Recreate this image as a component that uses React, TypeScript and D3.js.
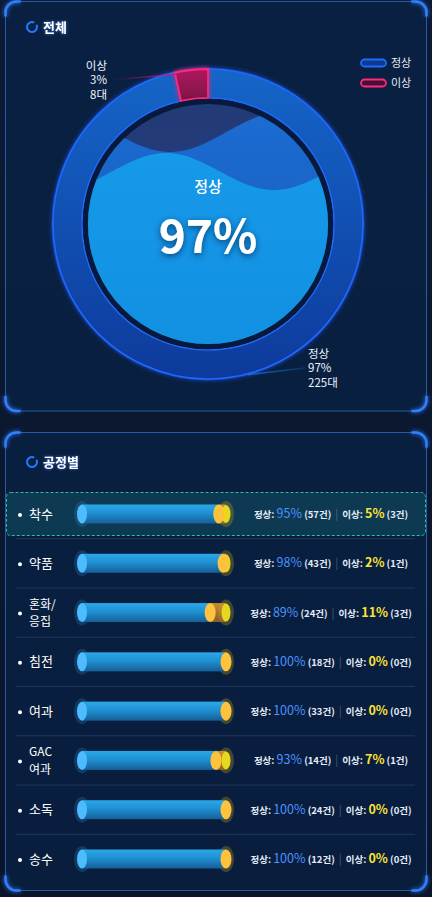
import { useEffect, useRef } from 'react'
import * as d3 from 'd3'

// overall
const totalCats = ['정상', '이상']
const totalCounts = [225, 8]
const totalPct = [97, 3]
const centerPct = 97

// per process
const procLabels = [['착수'], ['약품'], ['혼화/', '응집'], ['침전'], ['여과'], ['GAC', '여과'], ['소독'], ['송수']]
const normalPct = [95, 98, 89, 100, 100, 93, 100, 100]
const normalCnt = [57, 43, 24, 18, 33, 14, 24, 12]
const abnormalPct = [5, 2, 11, 0, 0, 7, 0, 0]
const abnormalCnt = [3, 1, 3, 0, 0, 1, 0, 0]

const FONT = '"Noto Sans CJK KR", "Noto Sans", sans-serif'
const W = 432, H = 897

function panel(g: d3.Selection<SVGGElement, unknown, null, undefined>, x: number, y: number, w: number, h: number) {
  g.append('rect').attr('x', x).attr('y', y).attr('width', w).attr('height', h).attr('rx', 10)
    .attr('fill', 'rgba(10,38,78,0.55)').attr('stroke', '#2a5aa6').attr('stroke-width', 1)
  const r = 11
  const corners = [
    `M${x},${y + r + 4}V${y + r}A${r},${r} 0 0 1 ${x + r},${y}H${x + r + 4}`,
    `M${x + w - r - 4},${y}H${x + w - r}A${r},${r} 0 0 1 ${x + w},${y + r}V${y + r + 4}`,
    `M${x},${y + h - r - 4}V${y + h - r}A${r},${r} 0 0 0 ${x + r},${y + h}H${x + r + 4}`,
    `M${x + w - r - 4},${y + h}H${x + w - r}A${r},${r} 0 0 0 ${x + w},${y + h - r}V${y + h - r - 4}`,
  ]
  corners.forEach(p => g.append('path').attr('d', p).attr('fill', 'none').attr('stroke', '#2f80ff')
    .attr('stroke-width', 2.5).attr('filter', 'url(#glow)'))
}

function title(g: d3.Selection<SVGGElement, unknown, null, undefined>, y: number, label: string) {
  const arc = d3.arc()({ innerRadius: 4, outerRadius: 6, startAngle: Math.PI * 0.35, endAngle: Math.PI * 2.15 } as any)
  g.append('path').attr('d', arc).attr('transform', `translate(32,${y})`).attr('fill', '#1f7bff')
  g.append('text').attr('x', 43).attr('y', y + 5).attr('fill', '#fff').attr('font-size', 13).attr('font-weight', 700)
    .attr('font-family', FONT).attr('filter', 'url(#txtglow)').text(label)
}

export default function App() {
  const ref = useRef<SVGSVGElement>(null)

  useEffect(() => {
    const svg = d3.select(ref.current!)
    svg.selectAll('*').remove()
    const defs = svg.append('defs')

    const glow = defs.append('filter').attr('id', 'glow').attr('x', '-50%').attr('y', '-50%').attr('width', '200%').attr('height', '200%')
    glow.append('feGaussianBlur').attr('stdDeviation', 2).attr('result', 'b')
    const gm = glow.append('feMerge'); gm.append('feMergeNode').attr('in', 'b'); gm.append('feMergeNode').attr('in', 'SourceGraphic')
    const tg = defs.append('filter').attr('id', 'txtglow').attr('x', '-30%').attr('y', '-50%').attr('width', '160%').attr('height', '200%')
    tg.append('feGaussianBlur').attr('stdDeviation', 1.5).attr('in', 'SourceAlpha').attr('result', 'b')
    tg.append('feFlood').attr('flood-color', '#3a8bff').attr('flood-opacity', 0.8)
    tg.append('feComposite').attr('in2', 'b').attr('operator', 'in').attr('result', 'c')
    const tm = tg.append('feMerge'); tm.append('feMergeNode').attr('in', 'c'); tm.append('feMergeNode').attr('in', 'SourceGraphic')
    const shadow = defs.append('filter').attr('id', 'shadow').attr('x', '-30%').attr('y', '-30%').attr('width', '160%').attr('height', '160%')
    shadow.append('feDropShadow').attr('dx', 0).attr('dy', 2).attr('stdDeviation', 3).attr('flood-color', '#062a55').attr('flood-opacity', 0.8)

    const lin = (id: string, stops: [number, string, number?][], x2 = 0, y2 = 1) => {
      const lg = defs.append('linearGradient').attr('id', id).attr('x1', 0).attr('y1', 0).attr('x2', x2).attr('y2', y2)
      stops.forEach(([o, c, op]) => lg.append('stop').attr('offset', o).attr('stop-color', c).attr('stop-opacity', op ?? 1))
    }
    lin('bg', [[0, '#0c1a33'], [0.5, '#0b1830'], [1, '#0a1529']])
    lin('ring', [[0, '#1565c8'], [1, '#0d3a9c']])
    lin('pink', [[0, '#b01a60'], [1, '#7e1048']])
    lin('top', [[0, '#223a76'], [1, '#284688']])
    lin('back', [[0, '#1c6cd2'], [1, '#1558b4']])
    lin('front', [[0, '#1699e8'], [1, '#1290e2']])
    lin('bar', [[0, '#2aa8e8'], [0.45, '#1f90d2'], [1, '#155f98']])
    lin('abn', [[0, '#e8a030', 0.85], [1, '#b87820', 0.7]])
    lin('leadPink', [[0, '#c01860', 0], [1, '#d01a68', 0.9]], 1, 0)
    lin('leadBlue', [[0, '#1a70d0', 0.9], [1, '#1a70d0', 0.2]], 1, 0)

    svg.append('rect').attr('width', W).attr('height', H).attr('fill', 'url(#bg)')

    const g = svg.append('g')
    panel(g, 5.5, 1.5, 421, 409.5)
    panel(g, 5.5, 432.5, 421, 458)
    title(g, 27, '전체')
    title(g, 462, '공정별')

    // ---------- donut ----------
    const cx = 208, cy = 224, rOut = 155, rIn = 126, rLiq = 120
    const pie = d3.pie<number>().sort(null).value(d => d)
    const arcs = pie(totalCounts)
    const arc = d3.arc<d3.PieArcDatum<number>>().innerRadius(rIn).outerRadius(rOut)
    const dg = g.append('g').attr('transform', `translate(${cx},${cy})`)

    dg.append('circle').attr('r', rOut).attr('fill', 'none').attr('stroke', '#1d5cff').attr('stroke-width', 3).attr('opacity', 0.6).attr('filter', 'url(#glow)')
    dg.append('path').attr('d', arc(arcs[0])!).attr('fill', 'url(#ring)').attr('stroke', '#2168ff').attr('stroke-width', 1.5)
    dg.append('path').attr('d', arc(arcs[1])!).attr('fill', 'url(#pink)').attr('stroke', '#ff2a7e').attr('stroke-width', 1.8).attr('filter', 'url(#glow)')

    // dark gap + liquid
    dg.append('circle').attr('r', rIn - 0.8).attr('fill', '#081a3c')
    const clip = defs.append('clipPath').attr('id', 'liq')
    clip.append('circle').attr('cx', cx).attr('cy', cy).attr('r', rLiq)
    const lq = g.append('g').attr('clip-path', 'url(#liq)')
    lq.append('circle').attr('cx', cx).attr('cy', cy).attr('r', rLiq).attr('fill', 'url(#top)')
    const xs = d3.range(cx - rLiq - 5, cx + rLiq + 6, 2)
    const wave = (mid: number, amp: number, phaseX: number, len: number) =>
      d3.area<number>().x(x => x).y0(cy + rLiq + 5)
        .y1(x => mid + amp * Math.cos((2 * Math.PI * (x - phaseX)) / len)).curve(d3.curveBasis)(xs)!
    lq.append('path').attr('d', wave(132, 20, 170, 226)).attr('fill', 'url(#back)')
    lq.append('path').attr('d', wave(171.5, -18.5, 166, 216)).attr('fill', 'url(#front)')

    g.append('text').attr('x', cx).attr('y', 192).attr('text-anchor', 'middle').attr('fill', '#fff')
      .attr('font-size', 15).attr('font-weight', 500).attr('font-family', FONT).text(totalCats[0])
    g.append('text').attr('x', cx).attr('y', 253).attr('text-anchor', 'middle').attr('fill', '#fff')
      .attr('font-size', 46).attr('font-weight', 700).attr('font-family', FONT).attr('filter', 'url(#shadow)').text(`${centerPct}%`)

    // slice labels
    const pt = (a: number, r: number) => [cx + r * Math.sin(a), cy - r * Math.cos(a)]
    const pA = pt(arcs[1].startAngle + 0.02, rOut - 2)
    g.append('line').attr('x1', 112).attr('y1', 80).attr('x2', pA[0]).attr('y2', pA[1])
      .attr('stroke', 'url(#leadPink)').attr('stroke-width', 1.5)
    const pN = pt((arcs[0].startAngle + arcs[0].endAngle) / 2 - 0.15, rOut + 1)
    g.append('line').attr('x1', pN[0]).attr('y1', pN[1]).attr('x2', 305).attr('y2', 368)
      .attr('stroke', 'url(#leadBlue)').attr('stroke-width', 1.5)
    const labLines = (x: number, y: number, anchor: string, lines: string[]) => {
      lines.forEach((s, i) => g.append('text').attr('x', x).attr('y', y + i * 14.5).attr('text-anchor', anchor)
        .attr('fill', '#eef3fb').attr('font-size', 11.5).attr('font-family', FONT).text(s))
    }
    labLines(107, 69.5, 'end', [totalCats[1], `${totalPct[1]}%`, `${totalCounts[1]}대`])
    labLines(308, 357.5, 'start', [totalCats[0], `${totalPct[0]}%`, `${totalCounts[0]}대`])

    // legend
    const legColors = [['#1f6bff', '#0e3a8c'], ['#ff2a7a', '#4a0e36']]
    totalCats.forEach((c, i) => {
      const ly = 63 + i * 20
      g.append('rect').attr('x', 361).attr('y', ly - 3.5).attr('width', 25).attr('height', 7).attr('rx', 3.5)
        .attr('fill', legColors[i][1]).attr('stroke', legColors[i][0]).attr('stroke-width', 1.8)
      g.append('text').attr('x', 391).attr('y', ly + 4).attr('fill', '#e8eef8').attr('font-size', 11)
        .attr('font-family', FONT).text(c)
    })

    // ---------- process rows ----------
    const names = procLabels.map(l => l.join(''))
    const yS = d3.scalePoint<string>().domain(names).range([514, 859])
    const xS = d3.scaleLinear().domain([0, 100]).range([82, 226])
    const step = yS.step()

    g.append('rect').attr('x', 6.5).attr('y', yS(names[0])! - 21.5).attr('width', 419).attr('height', 43).attr('rx', 4)
      .attr('fill', 'rgba(24,120,130,0.3)').attr('stroke', '#22c79c').attr('stroke-width', 1).attr('stroke-dasharray', '3,2')

    names.forEach((n, i) => {
      const y = yS(n)!
      if (i < names.length - 1)
        g.append('line').attr('x1', 16).attr('x2', 415).attr('y1', y + step / 2).attr('y2', y + step / 2)
          .attr('stroke', 'rgba(140,170,220,0.18)').attr('stroke-width', 1)
      g.append('circle').attr('cx', 20).attr('cy', y + 1).attr('r', 2).attr('fill', '#fff')
      const lines = procLabels[i]
      lines.forEach((s, j) => g.append('text').attr('x', 29)
        .attr('y', lines.length === 1 ? y + 4.5 : y - 4 + j * 17.5)
        .attr('fill', '#fff').attr('font-size', lines.length === 1 ? 13 : 12).attr('font-family', FONT).text(s))

      // bar
      const xe = xS(normalPct[i]), xEnd = xS(100)
      g.append('ellipse').attr('cx', xS(0)).attr('cy', y).attr('rx', 8).attr('ry', 13).attr('fill', 'rgba(60,150,230,0.22)')
      g.append('ellipse').attr('cx', xEnd).attr('cy', y).attr('rx', 8).attr('ry', 13).attr('fill', 'rgba(170,150,30,0.35)')
      g.append('rect').attr('x', xS(0)).attr('y', y - 9.5).attr('width', xe - xS(0)).attr('height', 19).attr('fill', 'url(#bar)')
      if (abnormalPct[i] > 0) {
        g.append('rect').attr('x', xe).attr('y', y - 9.5).attr('width', xEnd - xe).attr('height', 19).attr('fill', 'url(#abn)')
        g.append('ellipse').attr('cx', xEnd).attr('cy', y).attr('rx', 4.5).attr('ry', 9).attr('fill', '#e6d81e')
      }
      g.append('ellipse').attr('cx', xS(0)).attr('cy', y).attr('rx', 5).attr('ry', 9.5).attr('fill', '#4cbcff')
      g.append('ellipse').attr('cx', xe).attr('cy', y).attr('rx', 5.5).attr('ry', 9.5).attr('fill', '#ffc23c')

      // stats
      const t = g.append('text').attr('x', 331).attr('y', y + 4).attr('text-anchor', 'middle')
        .attr('font-family', FONT).attr('font-size', 9.5).attr('fill', '#e4ecf8')
      t.append('tspan').attr('font-weight', 700).text('정상: ')
      t.append('tspan').attr('font-size', 12.5).attr('fill', '#4a92ff').text(`${normalPct[i]}%`)
      t.append('tspan').attr('font-weight', 700).text(` (${normalCnt[i]}건)`)
      t.append('tspan').attr('dx', 4).attr('fill', 'rgba(200,215,240,0.35)').attr('font-size', 11).text('|')
      t.append('tspan').attr('dx', 4).attr('font-weight', 700).text('이상: ')
      t.append('tspan').attr('font-size', 12.5).attr('font-weight', 700).attr('fill', '#ffe236').text(`${abnormalPct[i]}%`)
      t.append('tspan').attr('font-weight', 700).text(` (${abnormalCnt[i]}건)`)
    })
  }, [])

  return <svg ref={ref} width={W} height={H} style={{ position: 'absolute', left: 0, top: 0, display: 'block' }} />
}
